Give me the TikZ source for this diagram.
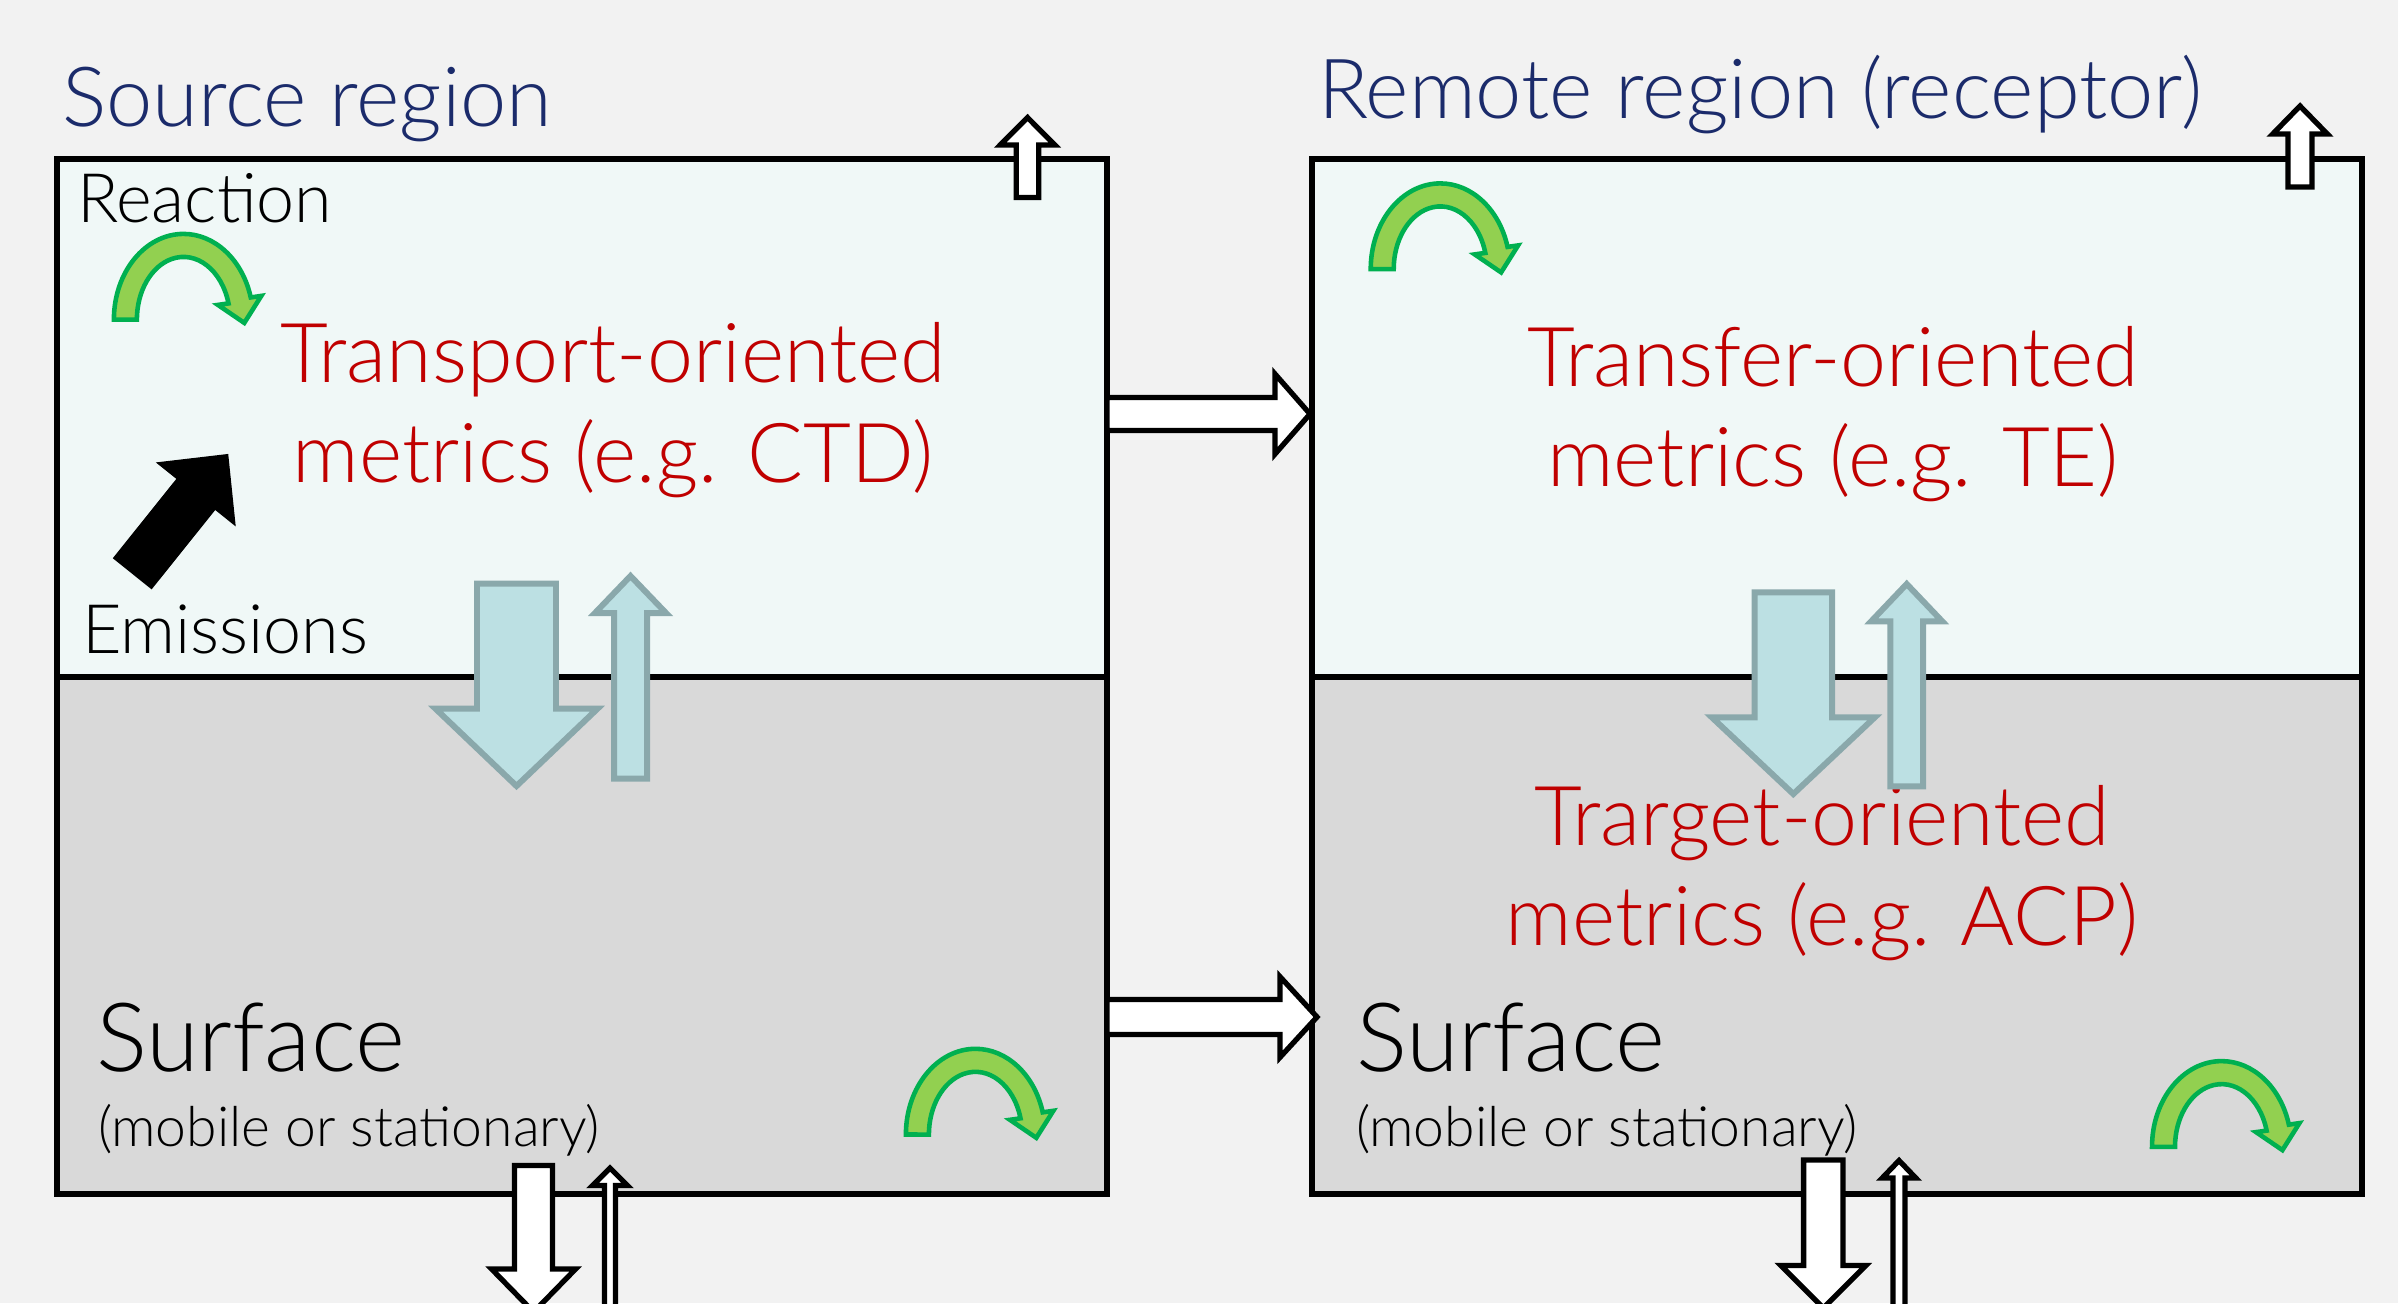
\documentclass[tikz,border=0pt]{standalone}
\usepackage{fontspec}
\setmainfont{Lato Light}
\usetikzlibrary{positioning}
\definecolor{paper}{HTML}{F2F2F2}
\definecolor{airfill}{HTML}{F0F8F7}
\definecolor{sfcfill}{HTML}{D9D9D9}
\definecolor{navy}{HTML}{1B2B6B}
\definecolor{metricred}{HTML}{C00000}
\definecolor{turnedge}{HTML}{00B050}
\definecolor{turnfill}{HTML}{92D050}
\definecolor{exchedge}{HTML}{8AA8AB}
\definecolor{exchfill}{HTML}{BCE0E3}

\tikzset{
  % length/shaft half width/head half width/head length
  pics/blockarrow/.style args={#1/#2/#3/#4}{code={
    \path[pic actions] (0,-#2) -- ({#1-#4},-#2) -- ({#1-#4},-#3) -- (#1,0)
      -- ({#1-#4},#3) -- ({#1-#4},#2) -- (0,#2) -- cycle;}},
  pics/turnover/.style={code={
    \path[pic actions, yscale=-1] (-69.6,0)
      arc[start angle=180, end angle=15, x radius=69.6, y radius=85.7]
      -- (77.8,23.7) -- (60.8,-3.3) -- (34.4,14.7) -- (45.0,16.2)
      arc[start angle=15, end angle=180, x radius=46.6, y radius=62.7] -- cycle;}}
}

\begin{document}
\begin{tikzpicture}[
    x=0.01cm, y=-0.01cm,
    every node/.style={inner sep=0pt, outer sep=0pt},
    air/.style={rectangle, draw=black, line width=1.7pt, fill=airfill, minimum width=10.49cm, minimum height=5.17cm},
    sfc/.style={air, fill=sfcfill},
    title/.style={anchor=base west, text=navy, font=\fontsize{23.6}{28}\selectfont},
    lab/.style={anchor=base west, font=\fontsize{19.4}{23}\selectfont},
    big/.style={anchor=base west, font=\fontsize{27.2}{32}\selectfont},
    small/.style={anchor=base west, font=\fontsize{15.7}{19}\selectfont},
    metric/.style={text=metricred, align=center, font=\fontsize{23.5}{28.5}\selectfont},
    exch/.style={draw=exchedge, fill=exchfill, line width=1.7pt},
    flux/.style={draw=black, fill=white, line width=1.5pt},
    emit/.style={fill=black},
    turn/.style={draw=turnedge, fill=turnfill, line width=1.3pt}
]
\useasboundingbox (0,0) rectangle (2398,1303);
\clip (0,0) rectangle (2398,1303);
\fill[paper] (0,0) rectangle (2398,1303);

% Regions
\node[air] (srcair) at (582,418) {};
\node[sfc, below=0pt of srcair] (srcsfc) {};
\node[air] (rcpair) at (1837,418) {};
\node[sfc, below=0pt of rcpair] (rcpsfc) {};

% Titles and labels
\node[title] (srctitle) at (62,126) {Source region};
\node[title] (rcptitle) at (1318,118) {Remote region (receptor)};
\node[lab] (reaction) at (77,222) {Reaction};
\node[lab] (emis) at (82,653) {Emissions};
\node[big] (srcsurf) at (96,1071) {Surface};
\node[small] (srcmob) at (98,1146) {(mobile or stationary)};
\node[big] (rcpsurf) at (1356,1071) {Surface};
\node[small] (rcpmob) at (1356,1146) {(mobile or stationary)};

% Metrics
\node[metric] (ctd) at (613,410) {Transport-oriented\\metrics (e.g. CTD)};
\node[metric] (te) at (1833,414) {Transfer-oriented\\metrics (e.g. TE)};
\node[metric] (acp) at (1822,873) {Trarget-oriented\\metrics (e.g. ACP)};

% Reaction loops
\pic[turn] at (183.5,319.6) {turnover};
\pic[turn] at (1440.3,269.1) {turnover};
\pic[turn] at (975.5,1134.5) {turnover};
\pic[turn] at (2221.6,1146.8) {turnover};

% Emissions
\pic[emit, rotate=51.3] at (132.2,573.8) {blockarrow={153.6/24.9/51.2/51.9}};

% Exchange between air and surface
\pic[exch, rotate=-90] at (516.5,583.7) {blockarrow={202.3/39.5/81/77.3}};
\pic[exch, rotate=90] at (630.5,778.7) {blockarrow={202.7/16.5/35.5/37}};
\pic[exch, rotate=-90] at (1793.3,592.3) {blockarrow={201.7/38.7/81.5/76.7}};
\pic[exch, rotate=90] at (1906.7,786.3) {blockarrow={202.3/16.3/35.5/37.3}};

% Outflow to the top
\pic[flux, rotate=90] at (1027.5,197.5) {blockarrow={80/11.3/27.3/27.5}};
\pic[flux, rotate=90] at (2300,187) {blockarrow={81/12/27.3/28}};

% Transport from source to receptor
\pic[flux] at (1107,414) {blockarrow={203/16.5/40/35}};
\pic[flux] at (1107,1017) {blockarrow={210/17.5/40.3/37}};

% Below the surface
\pic[flux, rotate=-90] at (533.6,1165.5) {blockarrow={146.5/19/42/43}};
\pic[flux, rotate=90] at (610,1330) {blockarrow={162/5.5/17.5/17.5}};
\pic[flux, rotate=-90] at (1823.3,1160) {blockarrow={148/19.7/42.5/42.5}};
\pic[flux, rotate=90] at (1899,1330) {blockarrow={169.5/6/16.8/17.5}};
\end{tikzpicture}
\end{document}
